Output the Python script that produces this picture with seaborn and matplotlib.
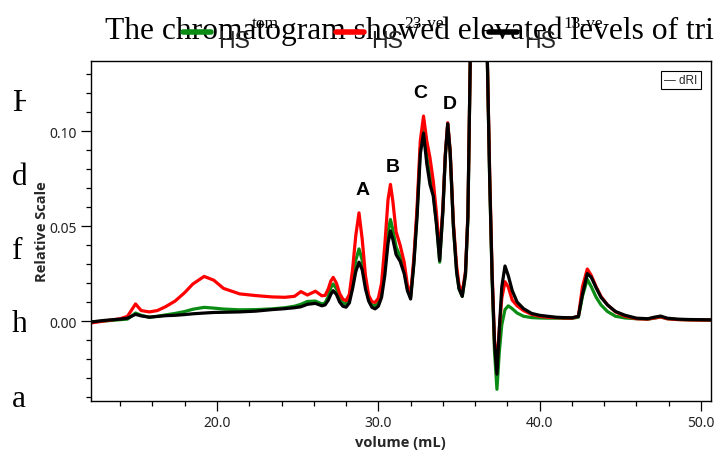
import matplotlib
matplotlib.use("Agg")
import matplotlib.pyplot as plt
import numpy as np
import pandas as pd
import seaborn as sns
from matplotlib.ticker import MultipleLocator, FormatStrFormatter
from matplotlib.transforms import Bbox, TransformedBbox, IdentityTransform, Affine2D
from matplotlib.lines import Line2D

# ---- chromatogram data (dRI response vs elution volume) ----
volume = [
    12.2, 13.0, 14.0, 14.45, 14.95, 15.3, 15.8, 16.3, 16.8, 17.4, 18.0, 18.5,
    19.2, 19.8, 20.4, 21.4, 22.4, 23.4, 24.2, 24.8, 25.2, 25.6, 26.1, 26.5,
    26.7, 26.9, 27.05, 27.2, 27.4, 27.6, 27.8, 28.0,
    28.2, 28.4, 28.6, 28.8, 29.0, 29.2, 29.4, 29.6, 29.8,
    30.0, 30.2, 30.4, 30.6, 30.75, 30.9, 31.1, 31.35, 31.6, 31.8, 32.0,
    32.2, 32.4, 32.6, 32.8, 33.0, 33.2, 33.4, 33.6, 33.8, 34.0, 34.15, 34.3,
    34.45, 34.65, 34.85, 35.0, 35.2,
    35.4, 35.55, 35.7, 35.85, 36.0, 36.15, 36.3, 36.45, 36.6, 36.75, 36.9,
    37.05, 37.2, 37.35, 37.5, 37.65, 37.85, 38.05, 38.3, 38.6, 39.0, 39.5, 40.0,
    40.5, 41.0, 41.5, 42.0, 42.4, 42.65, 42.95, 43.2, 43.5, 43.8, 44.2, 44.7,
    45.3, 46.0, 46.7, 47.1, 47.5, 47.9, 48.5, 49.2, 50.0, 50.6,
]

hs_tom = [
    -0.0005, 0.0, 0.0007, 0.001, 0.0042, 0.003, 0.002, 0.0025, 0.0032, 0.004, 0.005, 0.0062,
    0.0072, 0.0068, 0.0063, 0.0059, 0.006, 0.0064, 0.007, 0.0078, 0.0088, 0.0103, 0.0105, 0.009,
    0.0095, 0.013, 0.0175, 0.0195, 0.017, 0.012, 0.0095, 0.009,
    0.0115, 0.021, 0.032, 0.038, 0.032, 0.019, 0.0115, 0.0085, 0.008,
    0.0095, 0.015, 0.029, 0.047, 0.0535, 0.048, 0.039, 0.034, 0.027, 0.017, 0.0125,
    0.031, 0.057, 0.091, 0.102, 0.087, 0.076, 0.068, 0.052, 0.031, 0.058, 0.087, 0.104,
    0.089, 0.050, 0.026, 0.017, 0.013,
    0.024, 0.054, 0.14, 0.25, 0.35, 0.40, 0.38, 0.30, 0.22, 0.14, 0.074,
    0.022, -0.016, -0.036, -0.016, -0.002, 0.006, 0.008, 0.0065, 0.0042, 0.0025, 0.0018, 0.0016,
    0.0015, 0.0015, 0.0014, 0.0014, 0.002, 0.013, 0.022, 0.018, 0.0125, 0.0085, 0.005, 0.0025,
    0.0016, 0.0012, 0.001, 0.0015, 0.0021, 0.0012, 0.0008, 0.0006, 0.0005, 0.0005,
]

hs_23ve = [
    -0.001, 0.0, 0.0012, 0.0025, 0.009, 0.0055, 0.0048, 0.0055, 0.0075, 0.0105, 0.015, 0.0195,
    0.0235, 0.0215, 0.0172, 0.0143, 0.0134, 0.0127, 0.0125, 0.013, 0.0155, 0.0137, 0.0157, 0.0133,
    0.0135, 0.017, 0.021, 0.023, 0.020, 0.0145, 0.0115, 0.0107,
    0.014, 0.027, 0.045, 0.057, 0.043, 0.024, 0.0135, 0.0102, 0.0098,
    0.012, 0.020, 0.040, 0.064, 0.072, 0.063, 0.047, 0.040, 0.031, 0.019, 0.014,
    0.033, 0.060, 0.095, 0.108, 0.095, 0.086, 0.074, 0.057, 0.035, 0.060, 0.088, 0.1045,
    0.090, 0.052, 0.029, 0.019, 0.015,
    0.026, 0.056, 0.14, 0.25, 0.35, 0.40, 0.38, 0.30, 0.22, 0.14, 0.078,
    0.026, -0.010, -0.0235, -0.004, 0.012, 0.0207, 0.018, 0.011, 0.008, 0.0055, 0.0035, 0.0025,
    0.002, 0.0018, 0.0016, 0.0015, 0.0025, 0.018, 0.0274, 0.024, 0.018, 0.013, 0.0085, 0.0048,
    0.0025, 0.0012, 0.001, 0.0016, 0.0022, 0.0012, 0.0008, 0.0006, 0.0005, 0.0005,
]

hs_13ve = [
    -0.0005, 0.0003, 0.001, 0.0015, 0.0035, 0.0027, 0.002, 0.0024, 0.0028, 0.003, 0.0034, 0.0038,
    0.0042, 0.0045, 0.0046, 0.0048, 0.0052, 0.006, 0.0065, 0.007, 0.0075, 0.0088, 0.0093, 0.008,
    0.0085, 0.011, 0.014, 0.016, 0.014, 0.010, 0.0078, 0.0073,
    0.0095, 0.017, 0.026, 0.031, 0.027, 0.017, 0.0105, 0.0072, 0.0064,
    0.0078, 0.0125, 0.024, 0.041, 0.0475, 0.043, 0.035, 0.0315, 0.025, 0.016, 0.0116,
    0.030, 0.055, 0.088, 0.099, 0.083, 0.072, 0.066, 0.051, 0.032, 0.058, 0.087, 0.104,
    0.089, 0.050, 0.026, 0.017, 0.013,
    0.025, 0.055, 0.14, 0.25, 0.35, 0.40, 0.38, 0.30, 0.22, 0.14, 0.075,
    0.024, -0.012, -0.028, -0.004, 0.018, 0.029, 0.024, 0.016, 0.010, 0.0065, 0.004, 0.003,
    0.0025, 0.002, 0.0018, 0.0017, 0.0025, 0.014, 0.025, 0.023, 0.0175, 0.0125, 0.0085, 0.005,
    0.003, 0.0015, 0.0012, 0.002, 0.0026, 0.0015, 0.001, 0.0008, 0.0007, 0.0006,
]

sample_names = ["HS tom", "HS 23-ve", "HS 13-ve"]
legend_base = ["HS", "HS", "HS"]
legend_sup = ["tom", "23-ve", "13-ve"]
sample_colors = ["#0b8c14", "#ff0000", "#000000"]

peak_names = ["A", "B", "C", "D"]

page_heading = "The chromatogram showed elevated levels of tri"
page_margin_letters = ["H", "d", "f", "h", "a"]

# ---- build long-form table ----
df = pd.concat(
    [pd.DataFrame({"volume": volume, "signal": vals, "sample": name})
     for name, vals in zip(sample_names, [hs_tom, hs_23ve, hs_13ve])],
    ignore_index=True,
)

sns.set_theme(style="ticks")
plt.rcParams["font.family"] = ["Noto Sans", "DejaVu Sans"]

W, H = 715, 456
fig = plt.figure(figsize=(W / 100, H / 100), dpi=100)
fig.patch.set_facecolor("white")

ax = fig.add_axes([90.7 / W, 1 - 401.7 / H, (710.7 - 90.7) / W, (401.7 - 61.5) / H])

sns.lineplot(
    data=df, x="volume", y="signal", hue="sample", hue_order=sample_names,
    palette=dict(zip(sample_names, sample_colors)), sort=False, estimator=None,
    linewidth=2.3, legend=False, ax=ax,
)

ax.set_xlim(12.17, 50.6)
ax.set_ylim(-0.042, 0.1373)
ax.xaxis.set_major_locator(MultipleLocator(10))
ax.xaxis.set_minor_locator(MultipleLocator(2))
ax.yaxis.set_major_locator(MultipleLocator(0.05))
ax.yaxis.set_minor_locator(MultipleLocator(0.01))
ax.xaxis.set_major_formatter(FormatStrFormatter("%.1f"))
ax.yaxis.set_major_formatter(FormatStrFormatter("%.2f"))
ax.tick_params(which="major", direction="out", length=7, width=0.9, color="black",
               labelsize=10, labelcolor="#222222", pad=3)
ax.tick_params(which="minor", direction="out", length=3.5, width=0.9, color="black")
for s in ax.spines.values():
    s.set_visible(True)
    s.set_color("black")
    s.set_linewidth(1.0)

label_font = dict(family=["Open Sans", "DejaVu Sans"], fontsize=10.5, fontweight="bold")
ax.set_xlabel("volume (mL)", labelpad=4, **label_font)
ax.set_ylabel("Relative Scale", labelpad=0.5, **label_font)

# peak labels
for name, (px, py) in zip(peak_names, [(29.0, 0.0695), (30.87, 0.0816), (32.6, 0.1205), (34.4, 0.1147)]):
    ax.text(px, py, name, ha="center", va="center", fontsize=14, fontweight="bold",
            family="Liberation Sans", color="black")

# detector tag
ax.text(0.952, 0.944, "\u2014 dRI", transform=ax.transAxes, ha="center", va="center",
        fontsize=8.5, family="Liberation Sans",
        bbox=dict(boxstyle="square,pad=0.25", fc="white", ec="black", lw=0.8))

# surrounding page text
fig.text(105 / W, 1 - 39 / H, page_heading, family="Liberation Serif", fontsize=22.7,
         ha="left", va="baseline", color="black")
clip = TransformedBbox(Bbox([[0, 0], [25.5, H]]), IdentityTransform())
for letter, base in zip(page_margin_letters, [111, 185, 259, 332, 407]):
    t = fig.text(12 / W, 1 - base / H, letter, family="Liberation Serif", fontsize=22.7,
                 ha="left", va="baseline", color="black")
    t.set_clip_box(clip)
    t.set_clip_on(True)

# sample legend: swatch + "HS", with the sample tag set as a raised superscript
handles = [Line2D([], [], color=c, lw=4) for c in sample_colors]
leg = fig.legend(handles, legend_base, loc="upper left", bbox_to_anchor=(183 / W, 1 - 23 / H),
                 ncol=3, frameon=False, prop={"family": "Liberation Sans", "size": 16.6},
                 handlelength=28 / 23.05, handletextpad=7 / 23.05, columnspacing=86 / 23.05,
                 borderpad=0, borderaxespad=0)
for t in leg.get_texts():
    t.set_transform(t.get_transform() + Affine2D().translate(0, -7))

for sup, sx in zip(legend_sup, [252, 404, 563]):
    fig.text(sx / W, 1 - 28 / H, sup, family="Liberation Serif", fontsize=12.5,
             ha="left", va="baseline", color="black")

fig.savefig("out.png", dpi=100)
